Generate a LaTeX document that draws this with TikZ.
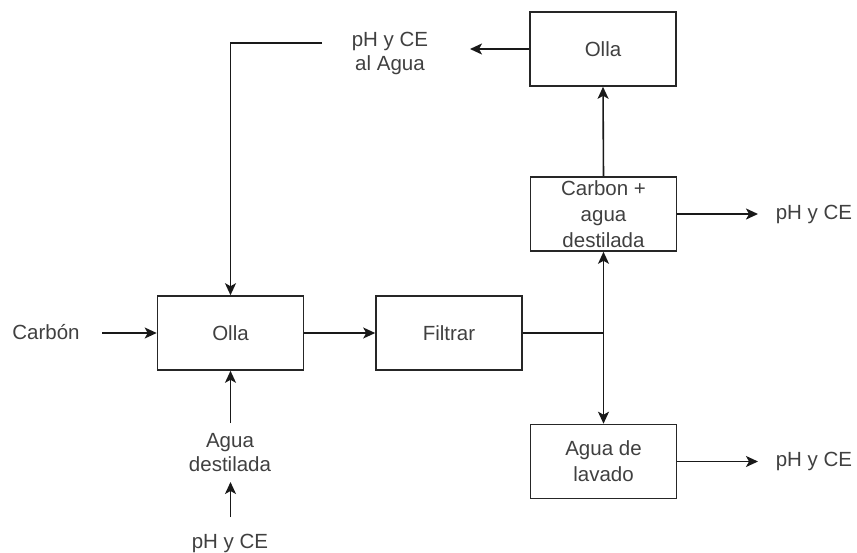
\documentclass[tikz,border=0pt]{standalone}
\usepackage{fontspec}
\setmainfont{Liberation Sans}
\usetikzlibrary{arrows.meta}
\begin{document}
\begin{tikzpicture}[x=1pt,y=-1pt,
  box/.style={draw=black!85,line width=1.6pt,minimum width=146pt,minimum height=74pt,inner sep=0pt,align=center,text=black!75,font=\fontsize{20.5}{26}\selectfont},
  lbl/.style={inner sep=0pt,align=center,text=black!75,font=\fontsize{20.5}{24}\selectfont},
  arr/.style={-{Stealth[length=12pt,width=11pt,inset=3pt]},line width=1.6pt,draw=black!90},
  ln/.style={line width=1.6pt,draw=black!90}]
\useasboundingbox (0,0) rectangle (857,552);
\node[box] (ollaT) at (603,49) {Olla};
\node[box] (carbonb) at (603.5,214) {Carbon +\\agua\\destilada};
\node[box] (ollaL) at (230.5,333) {Olla};
\node[box] (filtrar) at (449,333) {Filtrar};
\node[box] (lavado) at (603.5,461.5) {Agua de\\lavado};
\node[lbl] (phagua) at (390,53) {pH y CE\\al Agua};
\node[lbl] (carbon) at (46,332) {Carbón};
\node[lbl] (aguad) at (230,453) {Agua\\destilada};
\node[lbl] (phb) at (230,543) {pH y CE};
\node[lbl] (ph1) at (814,214) {pH y CE};
\node[lbl] (ph2) at (814,461.5) {pH y CE};
\coordinate (fb) at (322,43);
\coordinate (fbc) at (230.5,43);
\coordinate (a1) at (470,49);
\coordinate (c1) at (102,333);
\coordinate (d1) at (230.5,423);
\coordinate (e1) at (230.5,517);
\coordinate (e2) at (230.5,482);
\coordinate (j) at (603.5,333);
\coordinate (r1) at (758,214);
\coordinate (r2) at (758,461.5);
\draw[arr] (fb) -- (fbc) -- (ollaL.north);
\draw[arr] (ollaT.west) -- (a1);
\draw[arr] (carbonb.north) -- (ollaT.south);
\draw[arr] (carbonb.east) -- (r1);
\draw[arr] (lavado.east) -- (r2);
\draw[arr] (c1) -- (ollaL.west);
\draw[arr] (ollaL.east) -- (filtrar.west);
\draw[ln] (filtrar.east) -- (j);
\draw[arr] (j) -- (carbonb.south);
\draw[arr] (j) -- (lavado.north);
\draw[arr] (d1) -- (ollaL.south);
\draw[arr] (e1) -- (e2);
\end{tikzpicture}
\end{document}
